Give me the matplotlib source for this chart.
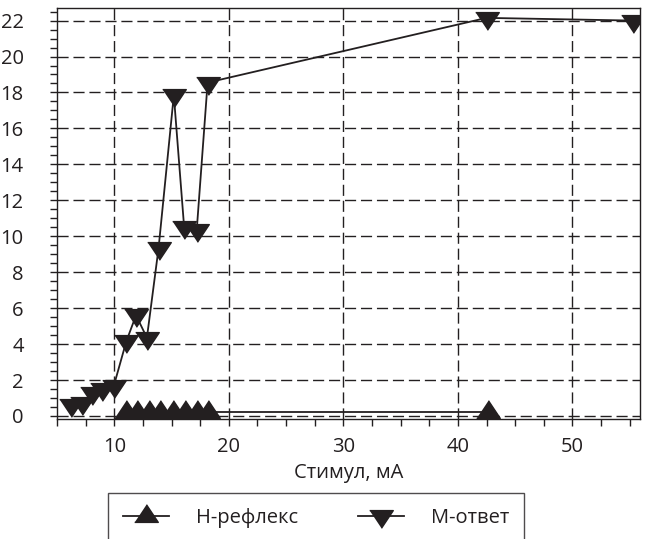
import numpy as np
import matplotlib.pyplot as plt
from matplotlib.ticker import MultipleLocator

plt.rcParams['font.family'] = ['Open Sans', 'DejaVu Sans']

# H-reflex amplitude vs stimulus
h_x = [11.05, 12.0, 13.0, 14.0, 15.15, 16.2, 17.2, 18.15, 42.6]
h_y = [0.2, 0.2, 0.2, 0.2, 0.2, 0.2, 0.2, 0.2, 0.2]

# M-response amplitude vs stimulus
m_x = [6.2, 7.2, 8.05, 8.9, 9.95, 11.05, 11.9, 12.85, 13.87, 15.2, 16.1, 17.2, 18.15, 42.5, 55.3]
m_y = [0.6, 0.7, 1.25, 1.5, 1.65, 4.15, 5.6, 4.35, 9.35, 17.85, 10.5, 10.35, 18.55, 22.15, 22.0]

ink = '#231f20'
up = [(-1, -0.5), (1, -0.5), (0, 1)]
down = [(-1, 0.5), (1, 0.5), (0, -1)]

fig = plt.figure(figsize=(6.47, 5.39), dpi=100)
ax = fig.add_axes([57 / 647, 1 - 419 / 539, 583 / 647, 411 / 539])

ax.plot(h_x, h_y, color=ink, lw=1.3, marker=up, ms=17, mfc=ink, mec=ink,
        label='Н-рефлекс', zorder=3)
ax.plot(m_x, m_y, color=ink, lw=1.3, marker=down, ms=17, mfc=ink, mec=ink,
        label='М-ответ', zorder=3)

ax.set_xlim(5, 55.9)
ax.set_ylim(-0.17, 22.7)
ax.xaxis.set_major_locator(MultipleLocator(10))
ax.xaxis.set_minor_locator(MultipleLocator(2.5))
ax.yaxis.set_major_locator(MultipleLocator(2))
ax.yaxis.set_minor_locator(MultipleLocator(0.5))
ax.tick_params(which='both', direction='out', length=5, width=1, color=ink,
               labelsize=14.5, labelcolor=ink)
ax.tick_params(axis='y', which='major', pad=19)
ax.tick_params(axis='x', which='major', pad=8)
ax.grid(True, which='major', color=ink, lw=1, linestyle=(0, (8, 3.5)))
for s in ax.spines.values():
    s.set_color(ink)
    s.set_linewidth(1)

ax.set_xlabel('Стимул, мА', fontsize=14.5, color=ink, labelpad=4)

leg = fig.legend(loc='upper left', bbox_to_anchor=(108 / 647, 1 - 493 / 539),
                 ncol=2, fontsize=14.5, frameon=True, fancybox=False,
                 borderaxespad=0, handlelength=2.3, handletextpad=1.3,
                 columnspacing=3.0, borderpad=0.75)
leg.get_frame().set_edgecolor(ink)
leg.get_frame().set_linewidth(1)
for t in leg.get_texts():
    t.set_color(ink)

fig.savefig('out.png', dpi=100)
